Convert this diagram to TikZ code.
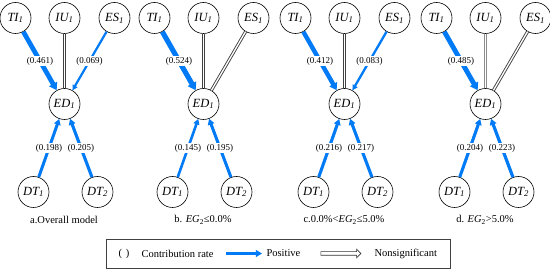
\documentclass[tikz,border=0pt]{standalone}
\usepackage{fontspec}
\setmainfont{Liberation Serif}
\usetikzlibrary{positioning,arrows.meta,shapes}
\definecolor{posblue}{RGB}{0,122,245}

\begin{document}
\begin{tikzpicture}[
  x=1pt, y=-1pt,
  var/.style={circle, draw=black, line width=0.6pt, minimum size=31pt, inner sep=0pt,
              fill=white, font=\fontsize{12.5}{14}\selectfont\itshape},
  posarr/.style={draw=posblue, line width=#1, -{Triangle[length=3.5pt 0.8, width=2.5pt 1.35]}},
  nsline/.style={draw=black!75, double=white, double distance=1.3pt, line width=0.9pt},
  coef/.style={fill=white, inner sep=1pt, font=\fontsize{9}{10}\selectfont},
  captxt/.style={font=\fontsize{10.5}{12}\selectfont}
]
\useasboundingbox (0,0) rectangle (550,272);
\foreach \p/\X in {a/64.5, b/203.5, c/344.5, d/485.5}{
  \node[var] (ti\p)  at (\X-49,18)  {TI\textsubscript{1}};
  \node[var] (iu\p)  at (\X,18)     {IU\textsubscript{1}};
  \node[var] (es\p)  at (\X+50,18)  {ES\textsubscript{1}};
  \node[var] (ed\p)  at (\X,104)    {ED\textsubscript{1}};
  \node[var] (dta\p) at (\X-31,192) {DT\textsubscript{1}};
  \node[var] (dtb\p) at (\X+33,192) {DT\textsubscript{2}};
}

% a
\draw[posarr=4.7pt] (tia) -- node[coef]{(0.461)} (eda);
\draw[nsline] (iua.south) -- (eda.north);
\draw[posarr=2.2pt] (esa) -- node[coef]{(0.069)} (eda);
\draw[posarr=3pt] (dtaa) -- node[coef]{(0.198)} (eda);
\draw[posarr=3.1pt] (dtba) -- node[coef]{(0.205)} (eda);
% b
\draw[posarr=5.1pt] (tib) -- node[coef]{(0.524)} (edb);
\draw[nsline] (iub.south) -- (edb.north);
\draw[nsline] (esb) -- (edb);
\draw[posarr=2.6pt] (dtab) -- node[coef]{(0.145)} (edb);
\draw[posarr=3pt] (dtbb) -- node[coef]{(0.195)} (edb);
% c
\draw[posarr=4.4pt] (tic) -- node[coef]{(0.412)} (edc);
\draw[nsline] (iuc.south) -- (edc.north);
\draw[posarr=2.3pt] (esc) -- node[coef]{(0.083)} (edc);
\draw[posarr=3.1pt] (dtac) -- node[coef]{(0.216)} (edc);
\draw[posarr=3.1pt] (dtbc) -- node[coef]{(0.217)} (edc);
% d
\draw[posarr=4.8pt] (tid) -- node[coef]{(0.485)} (edd);
\draw[nsline, draw=black!45] (iud.south) -- (edd.north);
\draw[nsline] (esd) -- (edd);
\draw[posarr=3.1pt] (dtad) -- node[coef]{(0.204)} (edd);
\draw[posarr=3.2pt] (dtbd) -- node[coef]{(0.223)} (edd);

\node[captxt] (capa) at (64,220)  {a.Overall model};
\node[captxt] (capb) at (203,220) {b. \textit{EG}\textsubscript{2}≤0.0\%};
\node[captxt] (capc) at (344,220) {c.0.0\%<\textit{EG}\textsubscript{2}≤5.0\%};
\node[captxt] (capd) at (485,220) {d. \textit{EG}\textsubscript{2}>5.0\%};

% legend
\node[draw=black!75, line width=0.8pt, minimum width=344pt, minimum height=29pt] (legend) at (278,253.5) {};
\node[captxt] (crsym) at (124,253.5) {(\hspace{4pt})};
\node[captxt, anchor=west] (crtxt) at (138,253.5) {Contribution rate};
\coordinate (posl) at (226,253.5);
\coordinate (posr) at (262,253.5);
\draw[posarr=3.2pt] (posl) -- (posr);
\node[captxt, anchor=west] (postxt) at (263,253.5) {Positive};
\node[single arrow, draw=black!80, line width=0.6pt, fill=white, minimum height=40pt,
      inner sep=1.5pt, single arrow head extend=2.5pt] (nsarr) at (340,253.5) {};
\node[captxt, anchor=west] (nstxt) at (371,253.5) {Nonsignificant};
\end{tikzpicture}
\end{document}
